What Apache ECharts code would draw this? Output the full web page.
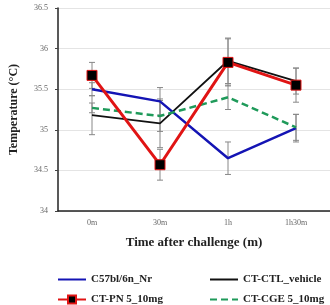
<!DOCTYPE html>
<html>
<head>
<meta charset="utf-8">
<script src="https://cdn.jsdelivr.net/npm/echarts@6/dist/echarts.min.js"></script>
<style>html,body{margin:0;padding:0;background:#fff}#chart{width:330px;height:305px}</style>
</head>
<body>
<div id="chart"></div>
<script>
const categories = ['0m', '30m', '1h', '1h30m'];
const yTicks = [34, 34.5, 35, 35.5, 36, 36.5];

const c57Values = [35.5, 35.35, 34.65, 35.02];
const c57Err = [0.08, 0.17, 0.2, 0.17];
const ctlValues = [35.18, 35.08, 35.85, 35.6];
const ctlErr = [0.24, 0.3, 0.28, 0.16];
const pnValues = [35.67, 34.57, 35.83, 35.55];
const pnErr = [0.16, 0.19, 0.29, 0.21];
const cgeValues = [35.27, 35.17, 35.4, 35.03];
const cgeErr = [0.06, 0.19, 0.15, 0.16];

const serif = '"Liberation Serif", "DejaVu Serif", serif';

const errData = (vals, errs) => vals.map((v, i) => [i, v - errs[i], v + errs[i]]);
const allErr = [].concat(
    errData(c57Values, c57Err),
    errData(ctlValues, ctlErr),
    errData(pnValues, pnErr),
    errData(cgeValues, cgeErr)
);

const legendText = { fontFamily: serif, fontWeight: 'bold', fontSize: 11, color: '#222' };
const makeLegend = (name, left, top, hideSymbol) => ({
    left, top, padding: 0, itemWidth: 28, itemHeight: 10, itemGap: 0,
    textStyle: legendText,
    data: [hideSymbol ? { name, itemStyle: { opacity: 0 } } : name]
});

let myChart = echarts.init(document.getElementById('chart'));

const option = {
    animation: false,
    grid: { left: 50, right: 0, top: 8, bottom: 94 },
    legend: [
        makeLegend('C57bl/6n_Nr', 57, 274, true),
        makeLegend('CT-PN 5_10mg', 57, 294, false),
        makeLegend('CT-CTL_vehicle', 209, 274, true),
        makeLegend('CT-CGE 5_10mg', 209, 294, true)
    ],
    xAxis: {
        type: 'category',
        data: categories,
        name: 'Time after challenge (m)',
        nameLocation: 'middle',
        nameGap: 25,
        nameTextStyle: { fontFamily: serif, fontWeight: 'bold', fontSize: 13, color: '#222' },
        axisLine: { lineStyle: { color: '#222', width: 1.5 } },
        axisTick: { alignWithLabel: true, length: 3, lineStyle: { color: '#888' } },
        axisLabel: { fontFamily: serif, fontSize: 8, color: '#666', margin: 8 }
    },
    yAxis: {
        type: 'value',
        min: 34, max: 36.5, interval: 0.5,
        name: 'Temperature (\u00b0C)',
        nameLocation: 'middle',
        nameGap: 38,
        nameTextStyle: { fontFamily: serif, fontWeight: 'bold', fontSize: 12, color: '#222' },
        axisLine: { show: true, lineStyle: { color: '#222', width: 1.5 } },
        axisTick: { show: true, length: 3, lineStyle: { color: '#444' } },
        splitLine: { lineStyle: { color: '#e4e4e4' } },
        axisLabel: {
            fontFamily: serif, fontSize: 8, color: '#666', margin: 10,
            formatter: v => yTicks.includes(v) ? String(v) : ''
        }
    },
    series: [
        {
            type: 'custom',
            z: 1,
            silent: true,
            renderItem: (params, api) => {
                const x = api.coord([api.value(0), api.value(1)])[0];
                const lo = api.coord([api.value(0), api.value(1)])[1];
                const hi = api.coord([api.value(0), api.value(2)])[1];
                const style = { stroke: '#888', lineWidth: 1 };
                return {
                    type: 'group',
                    children: [
                        { type: 'line', shape: { x1: x, y1: lo, x2: x, y2: hi }, style },
                        { type: 'line', shape: { x1: x - 3, y1: lo, x2: x + 3, y2: lo }, style },
                        { type: 'line', shape: { x1: x - 3, y1: hi, x2: x + 3, y2: hi }, style }
                    ]
                };
            },
            encode: { x: 0, y: [1, 2] },
            data: allErr
        },
        {
            name: 'C57bl/6n_Nr', type: 'line', z: 3,
            symbol: 'none',
            lineStyle: { color: '#1414b4', width: 2.5 },
            itemStyle: { color: '#1414b4' },
            data: c57Values
        },
        {
            name: 'CT-CTL_vehicle', type: 'line', z: 2,
            symbol: 'none',
            lineStyle: { color: '#111', width: 1.8 },
            itemStyle: { color: '#111' },
            data: ctlValues
        },
        {
            name: 'CT-PN 5_10mg', type: 'line', z: 4,
            symbol: 'rect', symbolSize: 10,
            lineStyle: { color: '#e01414', width: 3 },
            itemStyle: { color: '#000', borderColor: '#e01414', borderWidth: 1 },
            data: pnValues
        },
        {
            name: 'CT-CGE 5_10mg', type: 'line', z: 3,
            symbol: 'none',
            lineStyle: { color: '#1f9a5a', width: 2.5, type: [7, 4] },
            itemStyle: { color: '#1f9a5a' },
            data: cgeValues
        }
    ]
};

option && myChart.setOption(option);
</script>
</body>
</html>
